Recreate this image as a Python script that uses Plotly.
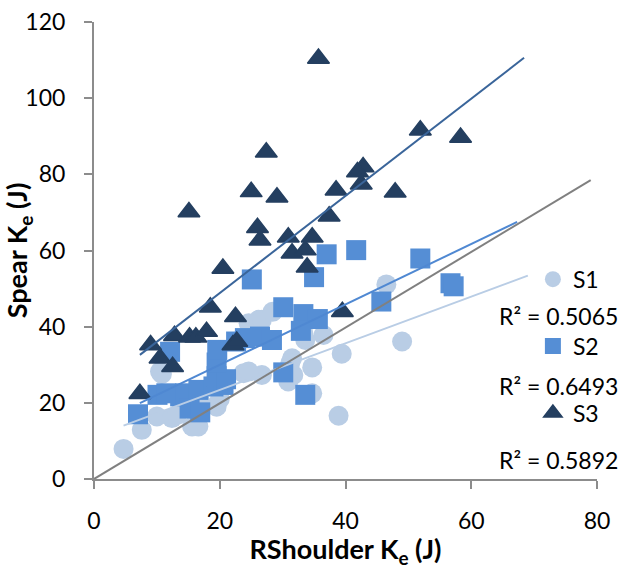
import plotly.graph_objects as go

# ---------------- data ----------------
s1_x = [4.7, 7.6, 10.0, 12.4, 13.2, 15.6, 16.6, 19.5, 10.5, 10.8, 23.8, 26.7, 24.6,
        25.1, 24.6, 26.2, 26.7, 28.4, 46.5, 49.0, 36.5, 33.6, 33.3, 39.4, 31.5, 38.9,
        34.7, 34.7, 31.2, 31.2, 31.7, 30.9, 17.0, 20.0]
s1_y = [7.9, 12.9, 16.4, 16.0, 16.8, 13.8, 13.8, 19.0, 28.2, 27.6, 27.8, 27.3, 28.2,
        40.4, 40.9, 41.8, 41.8, 43.9, 51.1, 36.1, 37.8, 36.5, 38.3, 32.9, 31.7, 16.6,
        29.3, 22.5, 30.4, 26.9, 27.3, 25.6, 20.0, 21.0]

s2_x = [7.0, 10.1, 11.5, 13.7, 14.5, 15.2, 16.9, 16.6, 19.0, 20.6, 19.5, 21.0, 19.5,
        19.6, 12.1, 22.6, 24.0, 26.4, 28.3, 25.1, 30.1, 33.3, 35.6, 32.9, 30.1, 33.6,
        35.0, 37.0, 41.7, 45.7, 51.9, 56.7, 57.2]
s2_y = [17.0, 22.1, 22.5, 21.7, 22.5, 18.5, 17.5, 23.4, 24.3, 24.7, 27.0, 26.2, 30.6,
        33.9, 33.4, 36.1, 37.0, 37.4, 36.5, 52.4, 45.1, 43.3, 42.0, 38.9, 28.0, 22.1,
        53.0, 59.0, 60.1, 46.6, 57.9, 51.4, 50.6]

s3_x = [35.7, 27.4, 15.1, 25.0, 29.1, 26.0, 26.4, 51.9, 58.3, 42.8, 41.9, 42.5, 38.5,
        47.9, 37.4, 30.9, 34.7, 31.5, 33.6, 33.9, 39.5, 20.5, 18.5, 22.5, 9.0, 12.8,
        15.2, 16.2, 17.9, 22.1, 22.7, 10.5, 12.5, 7.3]
s3_y = [110.4, 85.8, 70.1, 75.4, 74.0, 66.0, 62.7, 91.6, 89.7, 81.9, 80.6, 77.4, 75.8,
        75.3, 69.0, 63.5, 63.5, 59.3, 60.1, 55.6, 43.9, 55.3, 45.1, 42.6, 35.2, 37.6,
        37.2, 37.2, 38.7, 35.2, 36.1, 31.7, 29.5, 22.4]

# linear trendlines (end points)
trend1_x = [4.7, 69.0]
trend1_y = [14.0, 53.4]
trend2_x = [7.3, 67.3]
trend2_y = [19.9, 67.5]
trend3_x = [7.3, 68.4]
trend3_y = [32.6, 110.6]
ref_x = [0.0, 79.0]
ref_y = [0.0, 78.5]

r2_labels = ["R² = 0.5065", "R² = 0.6493", "R² = 0.5892"]
x_ticks = [0, 20, 40, 60, 80]
y_ticks = [0, 20, 40, 60, 80, 100, 120]

# ---------------- styling ----------------
C1 = "#B9CDE5"
C2 = "#558ED5"
C3 = "#243F60"
T3 = "#3A659A"
T2 = "#4F88D2"
GRAY = "#808080"
AX = "#8C8C8C"
FONT = "Lato"

fig = go.Figure()

fig.add_trace(go.Scatter(x=s1_x, y=s1_y, mode="markers", name="S1", legendgroup="a",
                         marker=dict(symbol="circle", size=20, color=C1)))
fig.add_trace(go.Scatter(x=s2_x, y=s2_y, mode="markers", name="S2", legendgroup="b",
                         marker=dict(symbol="square", size=20, color=C2)))
fig.add_trace(go.Scatter(x=s3_x, y=s3_y, mode="markers", name="S3", legendgroup="c",
                         marker=dict(symbol="triangle-up", size=19, color=C3,
                                     line=dict(color=C3, width=1.5))))

for tx, ty, col in [(trend1_x, trend1_y, C1), (trend2_x, trend2_y, T2),
                    (trend3_x, trend3_y, T3), (ref_x, ref_y, GRAY)]:
    fig.add_trace(go.Scatter(x=tx, y=ty, mode="lines", showlegend=False,
                             line=dict(color=col, width=2), hoverinfo="skip"))

# R² labels
r2_y_paper = [0.356, 0.2025, 0.042]
for txt, yy in zip(r2_labels, r2_y_paper):
    fig.add_annotation(text=txt, xref="paper", yref="paper", x=1.046, y=yy,
                       xanchor="right", yanchor="middle", showarrow=False,
                       font=dict(family=FONT, size=23, color="#000000"))

axis_common = dict(showgrid=False, zeroline=False, showline=True, linecolor=AX,
                   linewidth=2, ticks="outside", ticklen=8, tickwidth=2, tickcolor=AX,
                   automargin=False,
                   tickfont=dict(family=FONT, size=23, color="#000000"))

fig.update_layout(
    width=624, height=569,
    margin=dict(l=94, r=27, t=22, b=90, autoexpand=False),
    paper_bgcolor="white", plot_bgcolor="white",
    xaxis=dict(range=[0, 80], tickvals=x_ticks, ticklabelstandoff=12,
               title=dict(text="RShoulder K<sub>e</sub> (J)", standoff=8,
                          font=dict(family=FONT, size=27, color="#000000", weight="bold")),
               **axis_common),
    yaxis=dict(range=[0, 120], tickvals=y_ticks, ticklabelstandoff=14,
               title=dict(text="Spear K<sub>e</sub> (J)", standoff=0,
                          font=dict(family=FONT, size=27, color="#000000", weight="bold")),
               **axis_common),
    legend=dict(xref="container", yref="container", x=0.854, y=0.547,
                xanchor="left", yanchor="top", tracegroupgap=34,
                bgcolor="rgba(0,0,0,0)",
                font=dict(family=FONT, size=23, color="#000000")),
    showlegend=True,
)

fig.write_html("out.html")
